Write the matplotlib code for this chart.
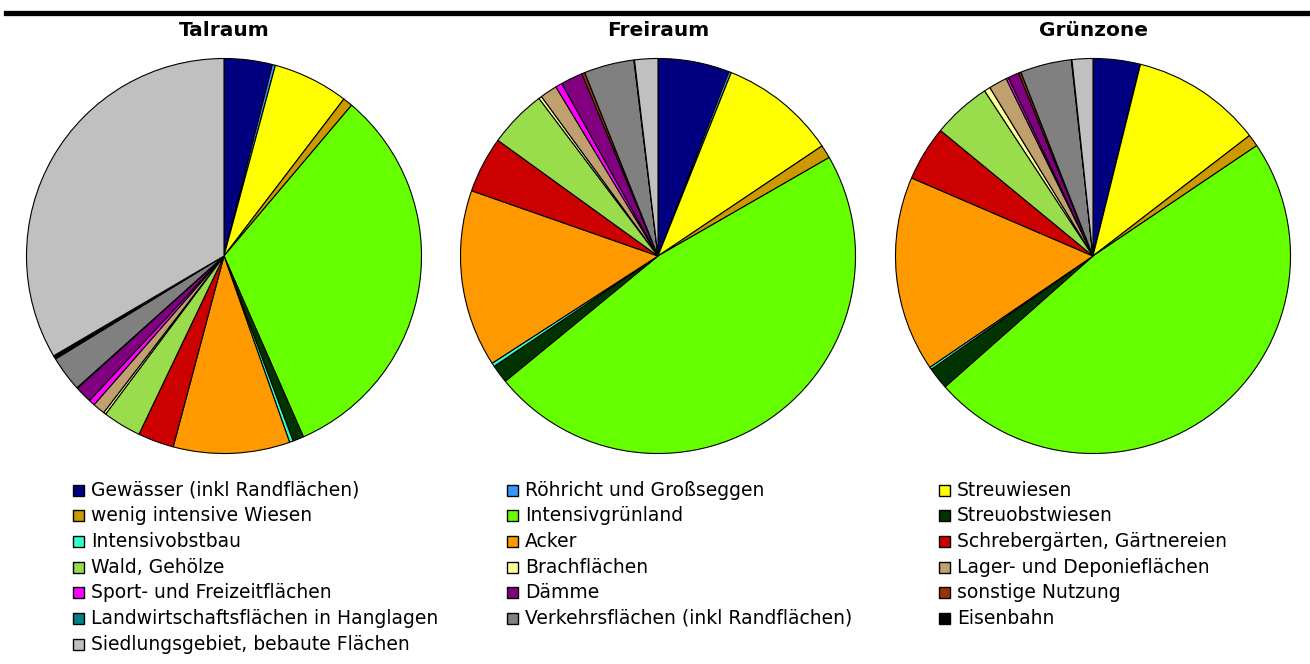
import matplotlib
matplotlib.use("Agg")
import matplotlib.pyplot as plt
from matplotlib.lines import Line2D
from matplotlib.patches import Rectangle

# land-use categories, in legend / pie order
categories = [
    "Gewässer (inkl Randflächen)", "Röhricht und Großseggen", "Streuwiesen",
    "wenig intensive Wiesen", "Intensivgrünland", "Streuobstwiesen",
    "Intensivobstbau", "Acker", "Schrebergärten, Gärtnereien",
    "Wald, Gehölze", "Brachflächen", "Lager- und Deponieflächen",
    "Sport- und Freizeitflächen", "Dämme", "sonstige Nutzung",
    "Landwirtschaftsflächen in Hanglagen", "Verkehrsflächen (inkl Randflächen)", "Eisenbahn",
    "Siedlungsgebiet, bebaute Flächen",
]
colors = [
    "#000080", "#3399FF", "#FFFF00",
    "#CC9900", "#66FF00", "#003300",
    "#33FFCC", "#FF9900", "#CC0000",
    "#99DD4D", "#FFFF99", "#C0A06E",
    "#FF00FF", "#800080", "#993300",
    "#008080", "#808080", "#000000",
    "#C0C0C0",
]

# shares in percent
talraum = [3.95, 0.25, 6.2, 0.8, 32.3, 0.9, 0.3, 9.55, 2.95,
           3.15, 0.2, 1.0, 0.5, 1.4, 0.05, 0.0, 2.9, 0.3, 33.5]
freiraum = [5.85, 0.2, 9.55, 1.1, 47.4, 1.5, 0.3, 14.5, 4.6,
            4.75, 0.25, 1.4, 0.55, 1.8, 0.25, 0.0, 4.1, 0.05, 1.9]
gruenzone = [3.85, 0.02, 10.7, 1.0, 47.95, 1.8, 0.2, 16.0, 4.5,
             4.8, 0.5, 1.5, 0.2, 0.9, 0.2, 0.0, 4.2, 0.05, 1.7]

titles = ["Talraum", "Freiraum", "Grünzone"]
series = [talraum, freiraum, gruenzone]

W, H = 1310, 664
plt.rcParams['font.family'] = ['DejaVu Sans']
fig = plt.figure(figsize=(W / 100, H / 100), dpi=100)

centers = [(224, 256), (658, 256), (1093, 256)]
r = 198.5
for (cx, cy), title, vals in zip(centers, titles, series):
    ax = fig.add_axes([(cx - r) / W, (H - cy - r) / H, 2 * r / W, 2 * r / H])
    ax.pie(vals, colors=colors, startangle=90, counterclock=False, radius=1,
           wedgeprops=dict(edgecolor='black', linewidth=0.8))
    ax.set_xlim(-1.005, 1.005)
    ax.set_ylim(-1.005, 1.005)
    ax.set_aspect('equal')
    ax.axis('off')
    fig.text(cx / W, 1 - 31 / H, title, ha='center', va='center',
             fontsize=14.5, fontweight='bold')

# black rule at the top
fig.add_artist(Line2D([6 / W, 1308 / W], [1 - 12.5 / H] * 2, color='black', lw=3.8))

# legend, filled row by row in three columns
col_x = [73, 507, 939]
row_y0, row_dy = 490, 25.7
sq = 11
for i, (name, c) in enumerate(zip(categories, colors)):
    row, col = divmod(i, 3)
    x = col_x[col]
    y = row_y0 + row * row_dy
    fig.add_artist(Rectangle((x / W, (H - y - sq / 2) / H), sq / W, sq / H,
                             facecolor=c, edgecolor='black', lw=1.0,
                             transform=fig.transFigure))
    fig.text((x + sq + 7) / W, (H - y) / H, name, ha='left', va='center',
             fontsize=13.5)

fig.savefig("out.png", dpi=100)
